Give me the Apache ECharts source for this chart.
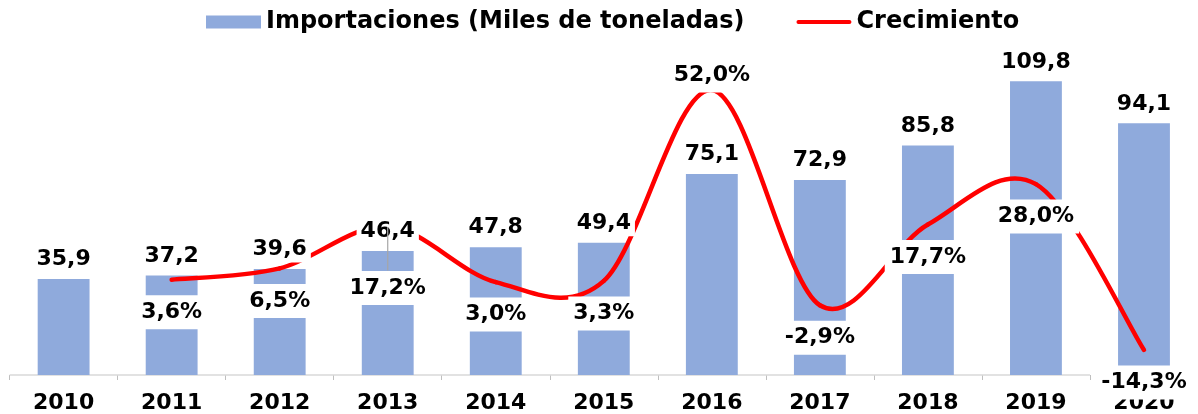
<!DOCTYPE html>
<html>
<head>
<meta charset="utf-8">
<title>Importaciones y crecimiento 2010-2020</title>
<script src="https://cdn.jsdelivr.net/npm/echarts@6/dist/echarts.min.js"></script>
<style>
  html, body { margin: 0; padding: 0; background: #ffffff; }
  #chart { width: 1198px; height: 414px; }
</style>
</head>
<body>
<div id="chart"></div>
<script>
// Categories and series values
const years = ['2010', '2011', '2012', '2013', '2014', '2015', '2016', '2017', '2018', '2019', '2020'];
const imports = [35.9, 37.2, 39.6, 46.4, 47.8, 49.4, 75.1, 72.9, 85.8, 109.8, 94.1];
const growth = [null, 3.6, 6.5, 17.2, 3.0, 3.3, 52.0, -2.9, 17.7, 28.0, -14.3];

const importsName = 'Importaciones (Miles de toneladas)';
const growthName = 'Crecimiento';

// Growth labels sit under the curve, except where they would collide
const growthLabelPlacement = {
  '2013': { position: 'bottom', distance: 44 },
  '2016': { position: 'top', distance: -3 }
};

const FONT = 'DejaVu Sans';
const BAR_COLOR = '#8FAADC';
const LINE_COLOR = '#FF0000';
const LINE_WIDTH = 4.5;

const fmt = (v, suffix) => v.toFixed(1).replace('.', ',') + (suffix || '');

const labelBox = {
  show: true,
  color: '#000',
  opacity: 1,
  fontFamily: FONT,
  fontWeight: 'bold',
  fontSize: 22,
  backgroundColor: '#ffffff'
};

const growthLabelData = growth.map((v, i) => {
  if (v === null) return null;
  const place = growthLabelPlacement[years[i]];
  const item = { value: v };
  if (place) item.label = { position: place.position, distance: place.distance };
  return item;
});

// Indices of the years that carry a growth value
const growthIdx = growth.map((v, i) => (v === null ? -1 : i)).filter(i => i >= 0);

// Smooth curve: each item draws the cubic Bézier segment to the next point,
// with Catmull-Rom tangents taken from the neighbouring points
function renderGrowthSegment(params, api) {
  const k = growthIdx.indexOf(params.dataIndex);
  if (k < 0 || k >= growthIdx.length - 1) return null;
  const pt = j => api.coord([growthIdx[j], growth[growthIdx[j]]]);
  const p1 = pt(k);
  const p2 = pt(k + 1);
  const p0 = k > 0 ? pt(k - 1) : p1;
  const p3 = k + 2 < growthIdx.length ? pt(k + 2) : p2;
  return {
    type: 'bezierCurve',
    shape: {
      x1: p1[0], y1: p1[1],
      cpx1: p1[0] + (p2[0] - p0[0]) / 6, cpy1: p1[1] + (p2[1] - p0[1]) / 6,
      cpx2: p2[0] - (p3[0] - p1[0]) / 6, cpy2: p2[1] - (p3[1] - p1[1]) / 6,
      x2: p2[0], y2: p2[1]
    },
    style: { stroke: LINE_COLOR, lineWidth: LINE_WIDTH, fill: null, lineCap: 'round' }
  };
}

const chart = echarts.init(document.getElementById('chart'), null, { renderer: 'canvas' });

chart.setOption({
  animation: false,
  backgroundColor: '#ffffff',
  legend: {
    data: [
      { name: importsName, icon: 'rect' },
      { name: growthName, icon: 'path://M2,0H53A2,2 0 0 1 53,4H2A2,2 0 0 1 2,0Z' }
    ],
    left: 206,
    top: 10,
    padding: 0,
    itemWidth: 55,
    itemHeight: 13,
    itemGap: 52,
    symbolKeepAspect: true,
    selectedMode: false,
    textStyle: { color: '#000', fontFamily: FONT, fontWeight: 'bold', fontSize: 24 }
  },
  grid: { left: 9.6, width: 1196.8, top: 54, bottom: 39 },
  xAxis: {
    type: 'category',
    data: years,
    axisLine: { show: false },
    axisTick: { show: true, length: 5, lineStyle: { color: '#BFBFBF', width: 1 } },
    axisLabel: { color: '#000', fontFamily: FONT, fontWeight: 'bold', fontSize: 22, margin: 17 },
    splitLine: { show: false }
  },
  yAxis: [
    { type: 'value', min: 0, max: 120, show: false, splitLine: { show: false } },
    { type: 'value', min: -20.7, max: 61.2, show: false, splitLine: { show: false } }
  ],
  series: [
    {
      name: importsName,
      type: 'bar',
      data: imports,
      barWidth: '48%',
      itemStyle: { color: BAR_COLOR },
      z: 2,
      silent: true
    },
    {
      name: growthName,
      type: 'custom',
      yAxisIndex: 1,
      data: growth.map((v, i) => [i, v === null ? '-' : v]),
      encode: { x: 0, y: 1 },
      renderItem: renderGrowthSegment,
      itemStyle: { color: LINE_COLOR },
      clip: false,
      z: 3,
      silent: true
    },
    {
      // value labels over each bar
      name: 'importsLabels',
      type: 'scatter',
      data: imports,
      symbolSize: 1,
      itemStyle: { color: 'transparent', opacity: 1 },
      label: Object.assign({}, labelBox, {
        position: 'top',
        distance: 6,
        padding: [2, 4],
        formatter: p => fmt(p.value)
      }),
      z: 6,
      silent: true
    },
    {
      // percentage labels along the growth curve
      name: 'growthLabels',
      type: 'scatter',
      yAxisIndex: 1,
      data: growthLabelData,
      symbolSize: 1,
      itemStyle: { color: 'transparent', opacity: 1 },
      label: Object.assign({}, labelBox, {
        position: 'bottom',
        distance: 15,
        padding: [6, 5],
        formatter: p => fmt(p.value, '%')
      }),
      z: 6,
      silent: true
    }
  ]
});

// Axis baseline stops at the 2019/2020 boundary; a leader line links the 2013 value label
(function addOverlays() {
  const xAt = c => chart.convertToPixel({ xAxisIndex: 0 }, c);
  const step = xAt(years[1]) - xAt(years[0]);
  const x0 = xAt(years[0]) - step / 2;
  const x1 = xAt(years[years.length - 2]) + step / 2;
  const yBase = chart.convertToPixel({ yAxisIndex: 0 }, 0);

  const i13 = years.indexOf('2013');
  const xc = xAt(years[i13]);
  const yBarTop = chart.convertToPixel({ yAxisIndex: 0 }, imports[i13]);
  const yGrowth = chart.convertToPixel({ yAxisIndex: 1 }, growth[i13]);

  chart.setOption({
    graphic: [
      {
        type: 'line',
        shape: { x1: x0, y1: yBase, x2: x1, y2: yBase },
        style: { stroke: '#D9D9D9', lineWidth: 1.5 },
        z: 1,
        silent: true
      },
      {
        type: 'line',
        shape: { x1: xc, y1: yBarTop - 24, x2: xc, y2: yGrowth + growthLabelPlacement['2013'].distance },
        style: { stroke: '#A6A6A6', lineWidth: 1.2 },
        z: 10,
        silent: true
      }
    ]
  });
})();
</script>
</body>
</html>
